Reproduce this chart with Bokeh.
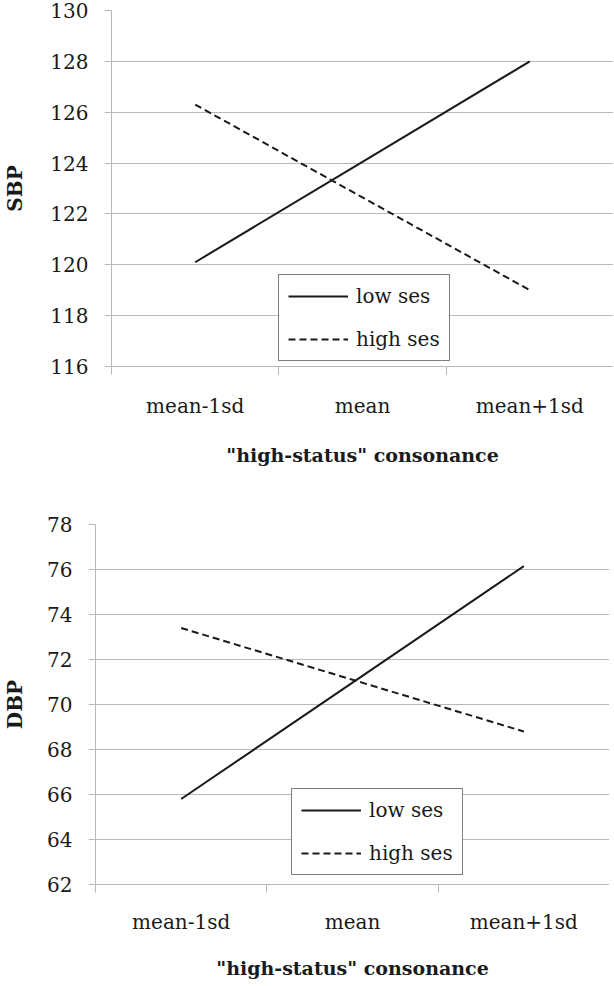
from bokeh.plotting import figure
from bokeh.models import FixedTicker, Legend, LegendItem, Range1d
from bokeh.embed import file_html
from bokeh.resources import INLINE

categories = ["mean-1sd", "mean", "mean+1sd"]
series_names = ["low ses", "high ses"]
sbp_low_ses = [120.1, 124.05, 128.0]
sbp_high_ses = [126.3, 122.65, 119.0]
dbp_low_ses = [65.8, 70.97, 76.15]
dbp_high_ses = [73.4, 71.1, 68.8]
sbp_ticks = [116, 118, 120, 122, 124, 126, 128, 130]
dbp_ticks = [62, 64, 66, 68, 70, 72, 74, 76, 78]
x_title = '"high-status" consonance'

FONT = "DejaVu Serif"
GRID = "#b8b8b8"
INK = "#1a1a1a"


def make_chart(ylabel, low, high, yticks, left, top, bottom, fw, fh, legend_xy,
               xlab_standoff, xtitle_standoff, ytitle_standoff):
    p = figure(frame_width=fw, frame_height=fh, output_backend="svg",
               toolbar_location=None,
               x_range=Range1d(0, len(categories)),
               y_range=Range1d(yticks[0], yticks[-1]),
               min_border_left=left, min_border_right=0, min_border_top=top,
               min_border_bottom=bottom)
    p.outline_line_color = None
    p.background_fill_color = "white"
    p.border_fill_color = "white"

    xs = [i + 0.5 for i in range(len(categories))]
    r1 = p.line(xs, low, line_color=INK, line_width=2)
    r2 = p.line(xs, high, line_color=INK, line_width=2, line_dash="7 4")

    xa = p.xaxis[0]
    xa.ticker = FixedTicker(ticks=xs, minor_ticks=list(range(len(categories) + 1)))
    xa.major_label_overrides = {x: c for x, c in zip(xs, categories)}
    xa.major_tick_out = 0
    xa.major_tick_in = 0
    xa.minor_tick_out = 8
    xa.minor_tick_in = 0
    xa.minor_tick_line_color = GRID
    xa.axis_line_color = GRID
    xa.major_label_text_font = FONT
    xa.major_label_text_font_size = "20px"
    xa.major_label_text_color = INK
    xa.major_label_standoff = xlab_standoff
    xa.axis_label = x_title
    xa.axis_label_text_font = FONT
    xa.axis_label_text_font_style = "bold"
    xa.axis_label_text_font_size = "19px"
    xa.axis_label_text_color = INK
    xa.axis_label_standoff = xtitle_standoff

    ya = p.yaxis[0]
    ya.ticker = FixedTicker(ticks=yticks, minor_ticks=[])
    ya.major_tick_out = 7
    ya.major_tick_in = 0
    ya.major_tick_line_color = GRID
    ya.axis_line_color = GRID
    ya.major_label_text_font = FONT
    ya.major_label_text_font_size = "20px"
    ya.major_label_text_color = INK
    ya.major_label_standoff = 16
    ya.axis_label = ylabel
    ya.axis_label_text_font = FONT
    ya.axis_label_text_font_style = "bold"
    ya.axis_label_text_font_size = "20px"
    ya.axis_label_text_color = INK
    ya.axis_label_standoff = ytitle_standoff

    p.xgrid.visible = False
    p.ygrid.grid_line_color = GRID
    p.ygrid.grid_line_width = 1

    legend = Legend(items=[LegendItem(label=series_names[0], renderers=[r1]),
                           LegendItem(label=series_names[1], renderers=[r2])],
                    location=legend_xy)
    legend.border_line_color = "black"
    legend.border_line_width = 1
    legend.background_fill_color = "white"
    legend.background_fill_alpha = 1
    legend.label_text_font = FONT
    legend.label_text_font_size = "20px"
    legend.label_text_color = INK
    legend.glyph_width = 60
    legend.glyph_height = 20
    legend.label_height = 20
    legend.label_standoff = 8
    legend.spacing = 19
    legend.padding = 9
    legend.margin = 0
    p.add_layout(legend)
    return p


top = make_chart("SBP", sbp_low_ses, sbp_high_ses, sbp_ticks,
                 104, 10, 107, 502, 356, (167, 5), 19, 23, 20)
bottom = make_chart("DBP", dbp_low_ses, dbp_high_ses, dbp_ticks,
                    92, 51, 92, 514, 360, (196, 9), 17, 20, 17)

open("out.html", "w").write(file_html([top, bottom], INLINE))
